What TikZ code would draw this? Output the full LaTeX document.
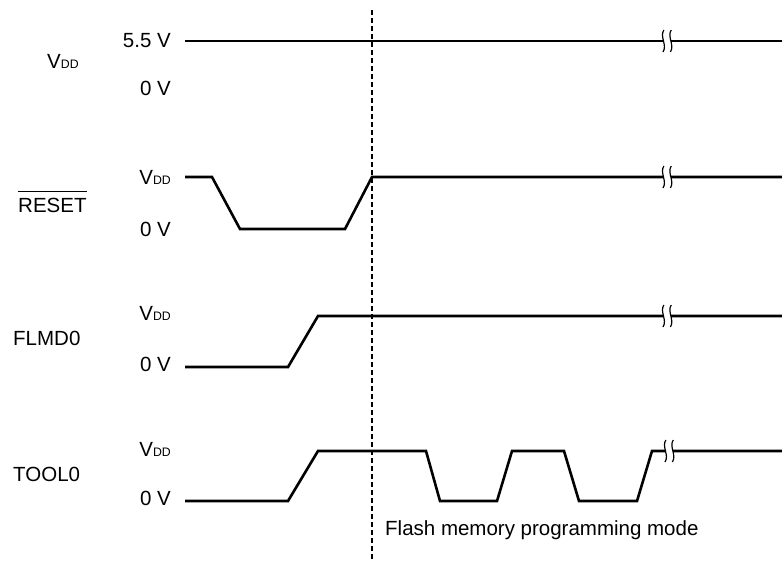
\documentclass[tikz,border=0pt]{standalone}
\usepackage{fontspec}
\setmainfont{Liberation Sans}
\newcommand\lblfont{\fontsize{20.5}{24}\selectfont}
\newcommand\Vdd{V{\fontsize{12.3}{12}\selectfont DD}}
\begin{document}
\begin{tikzpicture}[x=1pt,y=-1pt,
  sig/.style={line width=2.6pt, line join=miter},
  lvl/.style={anchor=east, inner sep=0pt, font=\lblfont},
  sname/.style={anchor=west, inner sep=0pt, font=\lblfont},
  brkline/.style={line width=1.2pt},
  marker/.style={dash pattern=on 4.5pt off 3.5pt, line width=1.2pt},
  breakmark/.pic={
    \fill[white] (-3.6,-3) rectangle (3.8,3);
    \draw[brkline] (-3.2,-11) .. controls (-7.5,-4) and (0.5,4) .. (-4,11);
    \draw[brkline] (4.2,-11) .. controls (-0.1,-4) and (7.9,4) .. (3.4,11);
  }]
\useasboundingbox (0,0) rectangle (782,560);
\fill[white] (0,0) rectangle (782,560);

% dashed marker
\coordinate (mtop) at (372,10);
\coordinate (mbot) at (372,560);
\draw[marker] (mtop) -- (mbot);

% VDD
\node[sname] (nvdd) at (47,61) {\Vdd};
\node[lvl] (vhi) at (171,41) {5.5 V};
\node[lvl] (vlo) at (171,88) {0 V};
\draw[sig] (185,41) -- (782,41);
\pic at (667,41) {breakmark};

% RESET
\node[sname] (nrst) at (18,205) {RESET};
\draw[line width=1.3pt] ([yshift=6pt]nrst.north west) -- ([yshift=6pt]nrst.north east);
\node[lvl] (rhi) at (171,177) {\Vdd};
\node[lvl] (rlo) at (171,229) {0 V};
\draw[sig] (185,177) -- (212,177) -- (240,229) -- (345,229) -- (372,177) -- (782,177);
\pic at (667,177) {breakmark};

% FLMD0
\node[sname] (nflm) at (13,338) {FLMD0};
\node[lvl] (fhi) at (171,313) {\Vdd};
\node[lvl] (flo) at (171,364) {0 V};
\draw[sig] (185,367) -- (288,367) -- (318,316) -- (782,316);
\pic at (667,316) {breakmark};

% TOOL0
\node[sname] (ntool) at (13,474) {TOOL0};
\node[lvl] (thi) at (171,449) {\Vdd};
\node[lvl] (tlo) at (171,498) {0 V};
\draw[sig] (185,501) -- (288,501) -- (318,451) -- (426,451) -- (440,501) -- (497,501) -- (512,451) -- (564,451) -- (579,501) -- (637,501) -- (652,451) -- (782,451);
\pic at (669,451) {breakmark};

\node[sname] (fm) at (385,530) {Flash memory programming mode};
\end{tikzpicture}
\end{document}
